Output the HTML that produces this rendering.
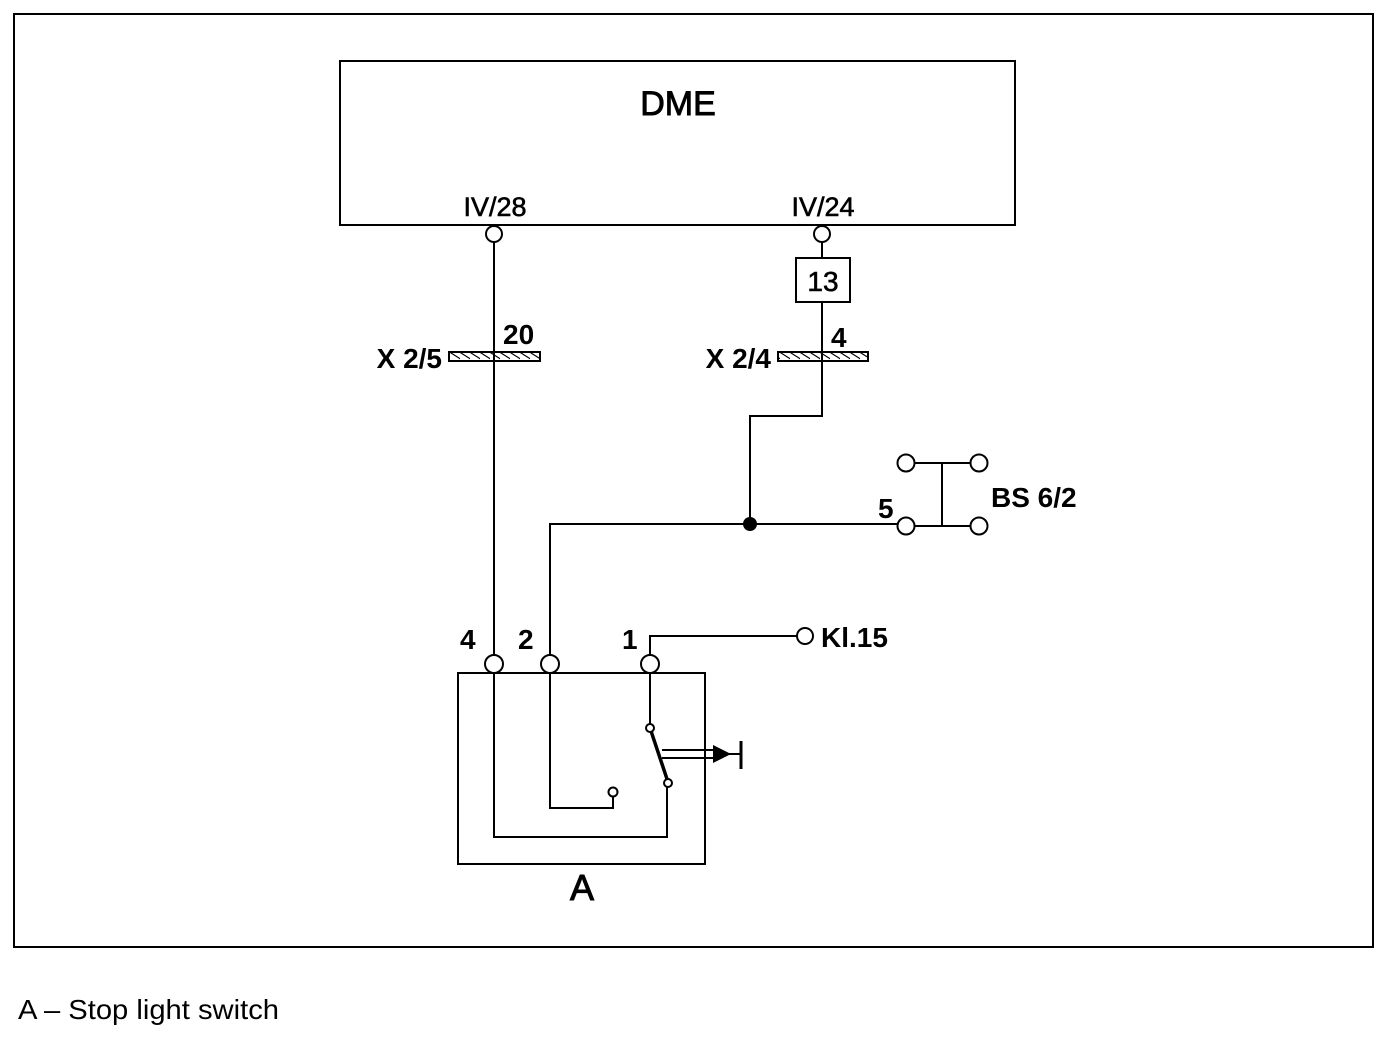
<!DOCTYPE html>
<html><head><style>html,body{margin:0;padding:0;background:#fff}</style></head>
<body>
<svg width="1382" height="1040" viewBox="0 0 1382 1040" xmlns="http://www.w3.org/2000/svg" font-family="Liberation Sans, Arial, sans-serif">
<defs>
<pattern id="h" width="10" height="9" patternUnits="userSpaceOnUse">
<line x1="-2" y1="0" x2="12" y2="9" stroke="#000" stroke-width="1.2"/>
</pattern>
</defs>
<rect x="14" y="14" width="1359" height="933" fill="none" stroke="#000" stroke-width="2"/>
<rect x="340" y="61" width="675" height="164" fill="none" stroke="#000" stroke-width="2"/>
<text x="678" y="115" font-size="34" text-anchor="middle" stroke="#000" stroke-width="0.9">DME</text>
<text x="495" y="216" font-size="27" text-anchor="middle" stroke="#000" stroke-width="0.6">IV/28</text>
<text x="823" y="216" font-size="27" text-anchor="middle" stroke="#000" stroke-width="0.6">IV/24</text>
<g fill="none" stroke="#000" stroke-width="2">
<line x1="494" y1="242" x2="494" y2="655"/>
<line x1="822" y1="242" x2="822" y2="258"/>
<rect x="796" y="258" width="54" height="44"/>
<polyline points="822,302 822,416 750,416 750,524"/>
<polyline points="897,524 550,524 550,655"/>
<polyline points="914,463 971,463"/>
<polyline points="914,526 971,526"/>
<line x1="942" y1="463" x2="942" y2="526"/>
<rect x="458" y="673" width="247" height="191"/>
<polyline points="650,655 650,636 797,636"/>
<polyline points="494,673 494,837 667,837 667,787"/>
<polyline points="550,673 550,808 613,808 613,796"/>
<line x1="650" y1="673" x2="650" y2="724"/>
<line x1="662" y1="750" x2="715" y2="750"/>
<line x1="662" y1="758" x2="715" y2="758"/>
</g>
<line x1="651" y1="731" x2="667" y2="779" stroke="#000" stroke-width="3.5"/>
<polygon points="713,745 731,754 713,763" fill="#000"/>
<line x1="741" y1="741" x2="741" y2="769" stroke="#000" stroke-width="3"/>
<line x1="715" y1="754" x2="741" y2="754" stroke="#000" stroke-width="2"/>
<g fill="#fff" stroke="#000" stroke-width="2">
<circle cx="494" cy="234" r="8"/>
<circle cx="822" cy="234" r="8"/>
<rect x="449" y="352" width="91" height="9" fill="url(#h)"/>
<rect x="778" y="352" width="90" height="9" fill="url(#h)"/>
<circle cx="906" cy="463" r="8.5"/>
<circle cx="979" cy="463" r="8.5"/>
<circle cx="906" cy="526" r="8.5"/>
<circle cx="979" cy="526" r="8.5"/>
<circle cx="494" cy="664" r="9"/>
<circle cx="550" cy="664" r="9"/>
<circle cx="650" cy="664" r="9"/>
<circle cx="805" cy="636" r="8"/>
<circle cx="650" cy="728" r="4"/>
<circle cx="668" cy="783" r="4"/>
<circle cx="613" cy="792" r="4.5"/>
</g>
<line x1="494" y1="340" x2="494" y2="375" stroke="#000" stroke-width="2"/>
<line x1="822" y1="340" x2="822" y2="375" stroke="#000" stroke-width="2"/>
<circle cx="750" cy="524" r="7" fill="#000"/>
<g font-size="28" font-weight="bold">
<text x="442" y="368" text-anchor="end">X 2/5</text>
<text x="503" y="344">20</text>
<text x="771" y="368" text-anchor="end">X 2/4</text>
<text x="831" y="347">4</text>
<text x="823" y="291" text-anchor="middle" font-weight="normal" stroke="#000" stroke-width="0.6">13</text>
<text x="878" y="518">5</text>
<text x="991" y="507">BS 6/2</text>
<text x="460" y="649">4</text>
<text x="518" y="649">2</text>
<text x="622" y="649">1</text>
<text x="821" y="647">Kl.15</text>
</g>
<text x="582" y="900" font-size="36" text-anchor="middle" stroke="#000" stroke-width="1">A</text>
<text x="18" y="1019" font-size="28" font-family="Liberation Sans Narrow, Liberation Sans, sans-serif" textLength="261" lengthAdjust="spacingAndGlyphs">A – Stop light switch</text>
</svg>
</body></html>
